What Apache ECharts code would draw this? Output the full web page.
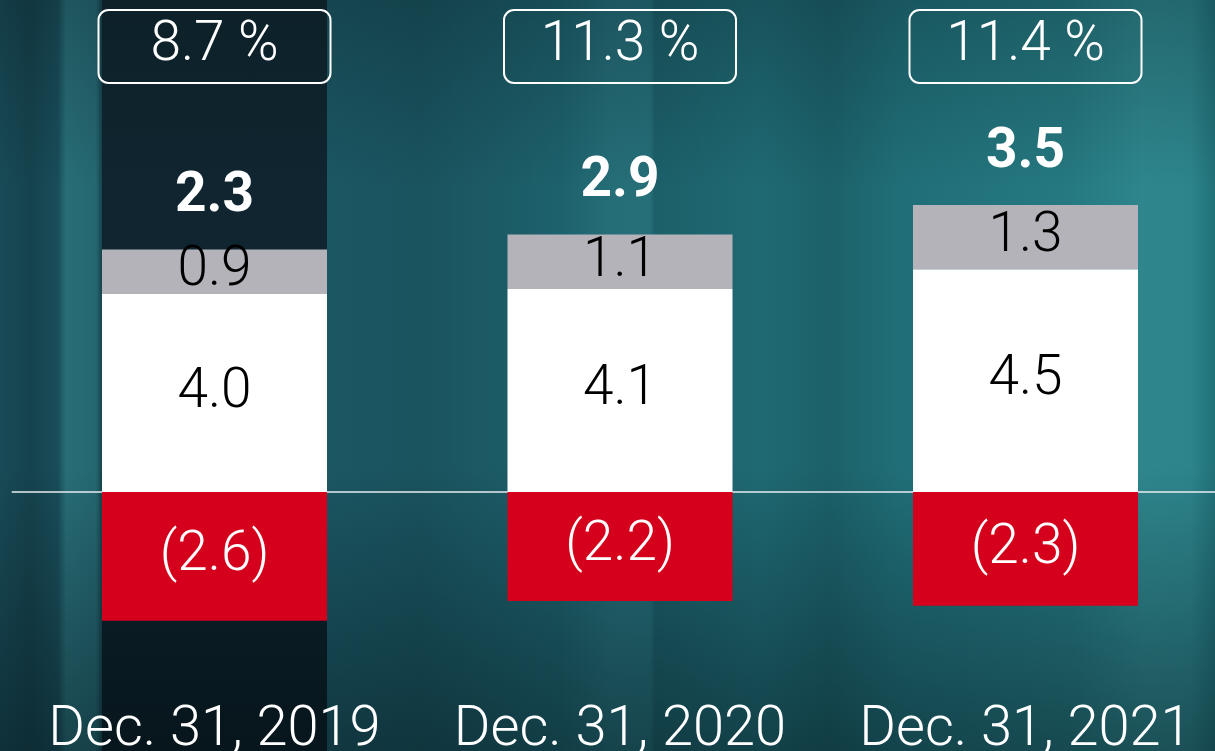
<!DOCTYPE html>
<html>
<head>
<meta charset="utf-8">
<script src="https://cdn.jsdelivr.net/npm/echarts@6/dist/echarts.min.js"></script>
<style>
  html, body { margin: 0; padding: 0; }
  #main {
    width: 1215px;
    height: 751px;
    background:
      linear-gradient(180deg, rgba(4,16,22,0.25) 0%, rgba(4,16,22,0) 25%, rgba(4,16,22,0) 62%, rgba(4,16,22,0.45) 100%),
      linear-gradient(180deg, #10262f 0%, #0f2430 55%, #0a1b22 100%) 102px 0 / 225px 100% no-repeat,
      linear-gradient(90deg,
        rgba(0,0,0,0) 0px, rgba(0,0,0,0.12) 30px, rgba(0,0,0,0) 58px,
        rgba(60,150,155,0.45) 66px, rgba(60,150,155,0.35) 96px, rgba(0,0,0,0.15) 102px,
        rgba(0,0,0,0) 330px, rgba(0,0,0,0.08) 420px, rgba(0,0,0,0) 560px,
        rgba(60,140,150,0.25) 612px, rgba(60,140,150,0.25) 650px, rgba(0,0,0,0.06) 655px,
        rgba(0,0,0,0) 760px, rgba(0,0,0,0.10) 830px, rgba(0,0,0,0) 900px,
        rgba(60,150,155,0.15) 1070px, rgba(70,165,170,0.35) 1145px, rgba(70,165,170,0.3) 1190px, rgba(0,0,0,0.05) 1215px),
      linear-gradient(90deg, #184b57 0%, #1b5864 30%, #1e6670 55%, #206f78 75%, #23777f 100%);
  }
</style>
</head>
<body>
<div id="main"></div>
<script>
const categories = ['Dec. 31, 2019', 'Dec. 31, 2020', 'Dec. 31, 2021'];
const baseValues = [4.0, 4.1, 4.5];
const addValues = [0.9, 1.1, 1.3];
const deductValues = [-2.6, -2.2, -2.3];
const totals = [2.3, 2.9, 3.5];
const ratios = ['8.7 %', '11.3 %', '11.4 %'];

const font = 'Roboto, "Noto Sans", sans-serif';

let el = document.getElementById('main');
let myChart = echarts.init(el, null, {renderer: 'canvas'});

let option = {
  backgroundColor: 'transparent',
  animation: false,
  grid: {
    left: 11.75,
    width: 1216.5,
    top: 96,
    height: 594,
    containLabel: false,
    outerBoundsMode: 'none'
  },
  xAxis: [{
    type: 'category',
    data: categories,
    position: 'bottom',
    axisLine: {show: false, onZero: false},
    axisTick: {show: false},
    axisLabel: {
      interval: 0,
      color: '#fff',
      fontFamily: font,
      fontWeight: 300,
      fontSize: 56,
      margin: 13
    }
  }, {
    type: 'category',
    data: ratios,
    position: 'top',
    axisLine: {show: false},
    axisTick: {show: false},
    axisLabel: {
      interval: 0,
      color: '#fff',
      fontFamily: font,
      fontWeight: 300,
      fontSize: 55,
      margin: 13,
      width: 232,
      height: 73,
      lineHeight: 73,
      align: 'center',
      borderColor: '#fff',
      borderWidth: 2,
      borderRadius: 10
    }
  }],
  yAxis: {
    type: 'value',
    min: -4,
    max: 8,
    show: false,
    splitLine: {show: false}
  },
  series: [{
    type: 'bar',
    stack: 'total',
    data: baseValues,
    barWidth: 225,
    z: 3,
    itemStyle: {color: '#ffffff'},
    label: {
      show: true,
      position: 'inside',
      color: '#000',
      fontFamily: font,
      fontWeight: 300,
      fontSize: 55,
      formatter: (p) => p.value.toFixed(1)
    }
  }, {
    type: 'bar',
    stack: 'total',
    data: addValues,
    z: 3,
    itemStyle: {color: '#b4b3b9'},
    label: {
      show: true,
      position: 'inside',
      color: '#000',
      fontFamily: font,
      fontWeight: 300,
      fontSize: 55,
      formatter: (p) => p.value.toFixed(1)
    }
  }, {
    type: 'bar',
    stack: 'total',
    data: deductValues,
    z: 3,
    itemStyle: {color: '#d5001c'},
    label: {
      show: true,
      position: 'inside',
      color: '#fff',
      fontFamily: font,
      fontWeight: 300,
      fontSize: 55,
      formatter: (p) => '(' + Math.abs(p.value).toFixed(1) + ')'
    },
    markLine: {
      silent: true,
      symbol: 'none',
      z: 1,
      label: {show: false},
      lineStyle: {color: '#e8eef0', width: 1.5, type: 'solid'},
      data: [{yAxis: 0}]
    }
  }, {
    type: 'scatter',
    data: categories.map((c, i) => [i, baseValues[i] + addValues[i]]),
    symbolSize: 1,
    itemStyle: {color: 'rgba(0,0,0,0)', opacity: 1},
    z: 4,
    label: {
      show: true,
      position: 'top',
      distance: 24,
      color: '#fff',
      fontFamily: font,
      fontWeight: 'bold',
      fontSize: 55,
      formatter: (p) => totals[p.dataIndex].toFixed(1)
    }
  }]
};
myChart.setOption(option);
</script>
</body>
</html>
